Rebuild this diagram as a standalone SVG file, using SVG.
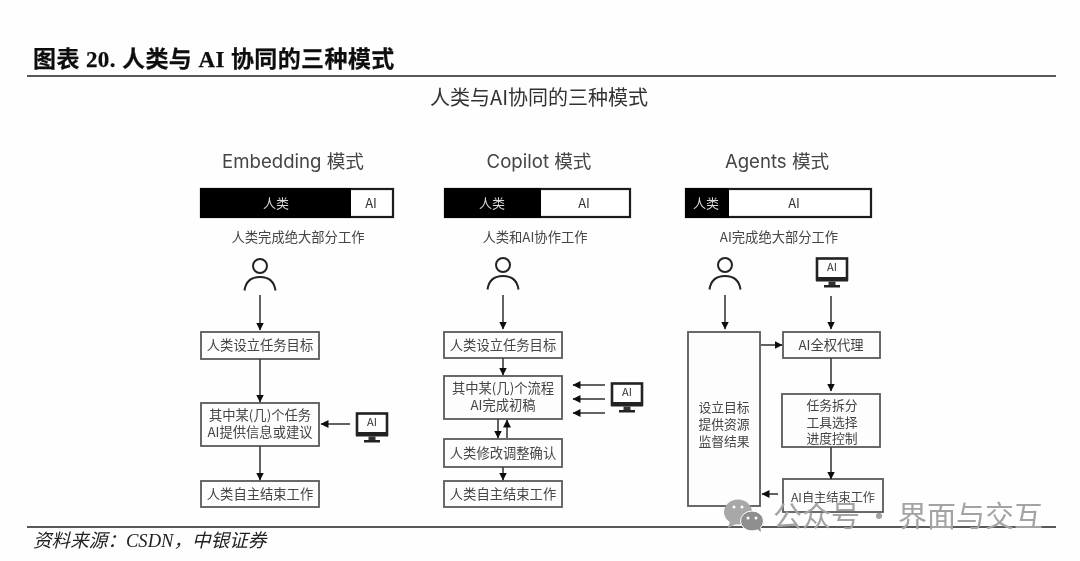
<svg xmlns="http://www.w3.org/2000/svg" xmlns:xlink="http://www.w3.org/1999/xlink" width="1080" height="561" viewBox="0 0 1080 561">
<style>
text{font-family:"Noto Sans CJK SC","Noto Sans",sans-serif;fill:#3c3c3c;text-anchor:middle}
.h{font-size:23px;font-weight:700;fill:#111;text-anchor:start;font-family:"Liberation Serif","Noto Sans CJK SC",serif;stroke:#111;stroke-width:.25;letter-spacing:.4px}
.main{font-size:20px;fill:#333}
.mode{font-size:18.6px;fill:#444;font-family:Inter,"Noto Sans CJK SC",sans-serif}
.bw{font-size:13px;fill:#ddd}
.bb{font-size:13px;fill:#333}
.sub{font-size:13.3px;fill:#444}
.t{font-size:13.3px;fill:#444}
.t2{font-size:12.8px;fill:#444}
.t3{font-size:12.2px;fill:#444}
.mon{font-size:11px;fill:#333}
.src{font-size:18.6px;fill:#222;text-anchor:start;font-style:italic;font-family:"Liberation Serif","Noto Sans CJK SC",serif}
.wm{font-size:29px;fill:#a3a3a3;text-anchor:start;word-spacing:-2px}
.box{fill:#fdfdfd;stroke:#5a5a5a;stroke-width:1.8}
.bar{fill:#fff;stroke:#1a1a1a;stroke-width:2.2}
.black{fill:#000}
.conn line{stroke:#3c3c3c;stroke-width:1.6;fill:none;marker-end:url(#a)}
.p{fill:none;stroke:#222;stroke-width:2}
.soft{filter:url(#b)}
</style>
<defs>
<filter id="b" x="-2%" y="-2%" width="104%" height="104%"><feGaussianBlur stdDeviation="0.45"/></filter>
<marker id="a" markerUnits="userSpaceOnUse" markerWidth="9" markerHeight="9" refX="7.5" refY="4" orient="auto"><path d="M0 0L8 4L0 8z" fill="#111"/></marker>
<g id="person"><circle cx="0" cy="0" r="7" class="p"/><path class="p" d="M-15.5 24.5C-14 14 -7 11 0 11C7 11 14 14 15.5 24.5"/></g>
<g id="monitor"><rect x="-15" y="-14.500" width="30" height="21" fill="#fff" stroke="#222" stroke-width="2.600"/><rect x="-16" y="4" width="32" height="4.500" fill="#222"/><rect x="-3.500" y="8.500" width="7" height="4" fill="#333"/><rect x="-8" y="12" width="16" height="2.500" fill="#222"/></g>
</defs>
<rect width="1080" height="561" fill="#fefefe"/>
<g class="soft">
<g id="header">
<text class="h" x="33" y="67" xml:space="preserve">图表 20. 人类与 AI 协同的三种模式</text>
<line x1="27" y1="76" x2="1056" y2="76" stroke="#222" stroke-width="1.500"/>
<text class="main" x="539" y="105">人类与AI协同的三种模式</text>
</g>
<g id="mode-embedding">
<text class="mode" x="293" y="168">Embedding 模式</text>
<rect class="bar" x="201" y="189" width="192" height="28"/><rect class="black" x="200" y="188" width="151" height="30"/>
<text class="bw" x="276" y="208">人类</text><text class="bb" x="371" y="208">AI</text>
<text class="sub" x="298" y="242">人类完成绝大部分工作</text>
</g>
<g id="mode-copilot">
<text class="mode" x="539" y="168">Copilot 模式</text>
<rect class="bar" x="445" y="189" width="185" height="28"/><rect class="black" x="444" y="188" width="97" height="30"/>
<text class="bw" x="492" y="208">人类</text><text class="bb" x="584" y="208">AI</text>
<text class="sub" x="535" y="242">人类和AI协作工作</text>
</g>
<g id="mode-agents">
<text class="mode" x="777" y="168">Agents 模式</text>
<rect class="bar" x="686" y="189" width="185" height="28"/><rect class="black" x="685" y="188" width="44" height="30"/>
<text class="bw" x="706" y="208">人类</text><text class="bb" x="794" y="208">AI</text>
<text class="sub" x="779" y="242">AI完成绝大部分工作</text>
</g>
<g id="person-1"><use xlink:href="#person" href="#person" x="260" y="266"/></g>
<g id="person-2"><use xlink:href="#person" href="#person" x="503" y="265"/></g>
<g id="person-3"><use xlink:href="#person" href="#person" x="725" y="265"/></g>
<g id="ai-1"><use xlink:href="#monitor" href="#monitor" x="372" y="428"/><text class="mon" x="372" y="426">AI</text></g>
<g id="ai-2"><use xlink:href="#monitor" href="#monitor" x="627" y="398"/><text class="mon" x="627" y="396">AI</text></g>
<g id="ai-3"><use xlink:href="#monitor" href="#monitor" x="832" y="273"/><text class="mon" x="832" y="271">AI</text></g>
<g id="e1"><rect class="box" x="201" y="332" width="118" height="27"/><text class="t" x="260" y="350">人类设立任务目标</text></g>
<g id="e2"><rect class="box" x="201" y="403" width="118" height="43"/><text class="t" x="260" y="420">其中某(几)个任务</text><text class="t" x="260" y="437">AI提供信息或建议</text></g>
<g id="e3"><rect class="box" x="201" y="481" width="118" height="26"/><text class="t" x="260" y="499">人类自主结束工作</text></g>
<g id="c1"><rect class="box" x="444" y="332" width="118" height="26"/><text class="t" x="503" y="350">人类设立任务目标</text></g>
<g id="c2"><rect class="box" x="444" y="376" width="118" height="43"/><text class="t" x="503" y="393">其中某(几)个流程</text><text class="t" x="503" y="410">AI完成初稿</text></g>
<g id="c3"><rect class="box" x="444" y="439" width="118" height="28"/><text class="t" x="503" y="458">人类修改调整确认</text></g>
<g id="c4"><rect class="box" x="444" y="481" width="118" height="26"/><text class="t" x="503" y="499">人类自主结束工作</text></g>
<g id="a0"><rect class="box" x="688" y="332" width="72" height="174"/><text class="t2" x="724" y="412">设立目标</text><text class="t2" x="724" y="429">提供资源</text><text class="t2" x="724" y="446">监督结果</text></g>
<g id="a1"><rect class="box" x="783" y="332" width="97" height="26"/><text class="t" x="831" y="350">AI全权代理</text></g>
<g id="a2"><rect class="box" x="782" y="394" width="98" height="53"/><text class="t2" x="832" y="410">任务拆分</text><text class="t2" x="832" y="426.500">工具选择</text><text class="t2" x="832" y="443">进度控制</text></g>
<g id="a3"><rect class="box" x="783" y="479" width="100" height="33"/><text class="t3" x="833" y="501.500">AI自主结束工作</text></g>
<g id="connectors" class="conn">
<line x1="260" y1="295" x2="260" y2="330"/><line x1="260" y1="359" x2="260" y2="402"/><line x1="260" y1="446" x2="260" y2="480"/><line x1="350" y1="424" x2="321" y2="424"/>
<line x1="503" y1="295" x2="503" y2="329"/><line x1="503" y1="358" x2="503" y2="375"/><line x1="498" y1="419" x2="498" y2="438"/><line x1="507" y1="438" x2="507" y2="420"/><line x1="503" y1="467" x2="503" y2="480"/>
<line x1="605" y1="385" x2="573" y2="385"/><line x1="605" y1="399" x2="573" y2="399"/><line x1="605" y1="413" x2="573" y2="413"/>
<line x1="725" y1="295" x2="725" y2="329"/><line x1="831" y1="296" x2="831" y2="329"/><line x1="761" y1="345" x2="782" y2="345"/><line x1="831" y1="358" x2="831" y2="391"/><line x1="831" y1="447" x2="831" y2="479"/><line x1="778" y1="494" x2="762" y2="494"/>
</g>
<g id="footer">
<line x1="27" y1="527" x2="1056" y2="527" stroke="#222" stroke-width="1.500"/>
<text class="src" x="33" y="547">资料来源：CSDN，中银证券</text>
</g>
<g id="watermark">
<ellipse cx="738" cy="512" rx="14" ry="12.500" fill="#a8a8a8"/><path d="M730 521l-2 7l8-4z" fill="#a8a8a8"/>
<ellipse cx="752" cy="521" rx="11.500" ry="10" fill="#8f8f8f" stroke="#fff" stroke-width="1"/><path d="M757 529l4 3l-1-6z" fill="#8f8f8f"/>
<circle cx="734" cy="507" r="1.500" fill="#fff"/><circle cx="742" cy="507" r="1.500" fill="#fff"/><circle cx="748" cy="518" r="1.500" fill="#fff"/><circle cx="756" cy="518" r="1.500" fill="#fff"/>
<text class="wm" x="773" y="527" xml:space="preserve">公众号 · 界面与交互</text>
</g>
</g>
</svg>
